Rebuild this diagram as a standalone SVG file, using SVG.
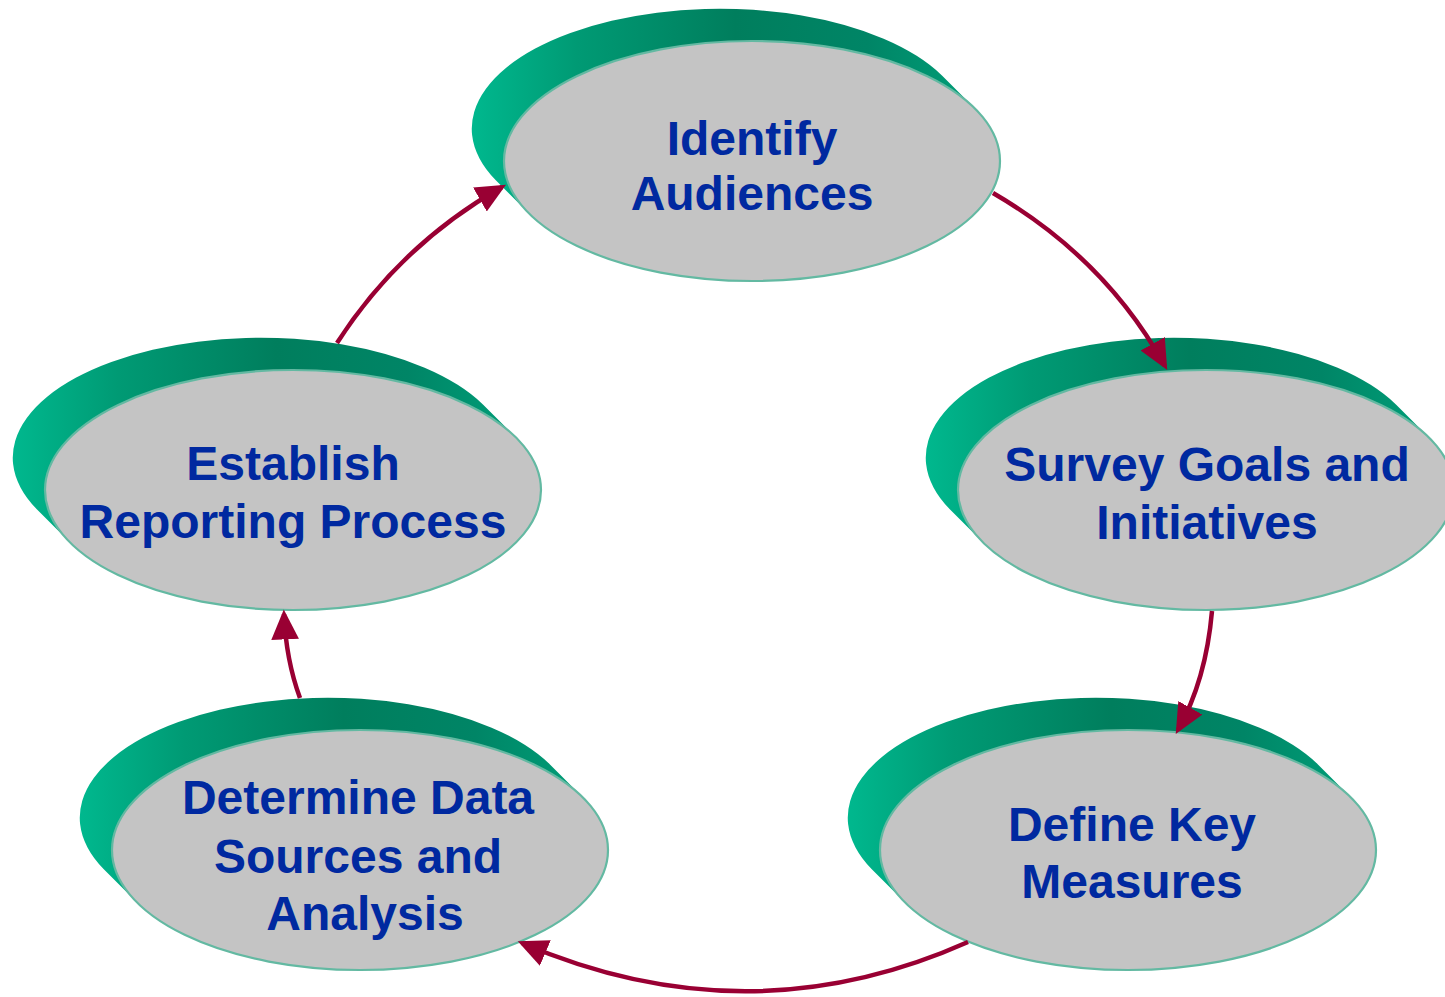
<svg xmlns="http://www.w3.org/2000/svg" width="1445" height="997" viewBox="0 0 1445 997">
  <defs>
    <style>
      .face { fill: #c4c4c4; stroke: #63b9a2; stroke-width: 2.2; }
      .band { fill: url(#bandGrad); }
      .label { font-family: "Liberation Sans", Arial, sans-serif; font-weight: bold; font-size: 48px; fill: #0029a0; text-anchor: middle; }
      .link { fill: none; stroke: #990033; stroke-width: 4.5; }
    </style>
    <linearGradient id="bandGrad" x1="0" y1="0.5" x2="1" y2="0.5">
      <stop offset="0" stop-color="#00b88e"/>
      <stop offset="0.2" stop-color="#009a74"/>
      <stop offset="0.5" stop-color="#007e5d"/>
      <stop offset="0.75" stop-color="#008566"/>
      <stop offset="1" stop-color="#00a47c"/>
    </linearGradient>
    <!-- extruded disc: swept band behind the face, centred on the face -->
    <g id="disc">
      <path class="band" d="M 223.2 -52.3 L 190.2 -85.3 A 248 120 0 0 0 -256.2 19.3 L -223.2 52.3 A 248 120 0 0 0 223.2 -52.3 Z"/>
      <ellipse class="face" cx="0" cy="0" rx="248" ry="120"/>
    </g>
    <marker id="arrow" markerUnits="userSpaceOnUse" markerWidth="30" markerHeight="30" viewBox="0 0 26 24" refX="22" refY="12" orient="auto">
      <path d="M 0 0 L 26 12 L 0 24 Z" fill="#990033"/>
    </marker>
  </defs>

  <g id="identify-audiences">
    <use href="#disc" transform="translate(752 161)"/>
    <text class="label" x="752" y="155">Identify</text>
    <text class="label" x="752" y="210">Audiences</text>
  </g>

  <g id="survey-goals">
    <use href="#disc" transform="translate(1206 490)"/>
    <text class="label" x="1207" y="481">Survey Goals and</text>
    <text class="label" x="1207" y="539">Initiatives</text>
  </g>

  <g id="define-key-measures">
    <use href="#disc" transform="translate(1128 850)"/>
    <text class="label" x="1132" y="841">Define Key</text>
    <text class="label" x="1132" y="898">Measures</text>
  </g>

  <g id="determine-data-sources">
    <use href="#disc" transform="translate(360 850)"/>
    <text class="label" x="358" y="814">Determine Data</text>
    <text class="label" x="358" y="873">Sources and</text>
    <text class="label" x="365" y="930">Analysis</text>
  </g>

  <g id="establish-reporting">
    <use href="#disc" transform="translate(293 490)"/>
    <text class="label" x="293" y="480">Establish</text>
    <text class="label" x="293" y="538">Reporting Process</text>
  </g>

  <g id="connectors">
    <path class="link" marker-end="url(#arrow)" d="M 993 193 Q 1105 258 1165 366"/>
    <path class="link" marker-end="url(#arrow)" d="M 1212 611 Q 1206 680 1178 730"/>
    <path class="link" marker-end="url(#arrow)" d="M 968 942 Q 748 1040 522 943"/>
    <path class="link" marker-end="url(#arrow)" d="M 300 698 Q 286 660 284 614"/>
    <path class="link" marker-end="url(#arrow)" d="M 337 343 Q 400 245 502 187"/>
  </g>
</svg>
